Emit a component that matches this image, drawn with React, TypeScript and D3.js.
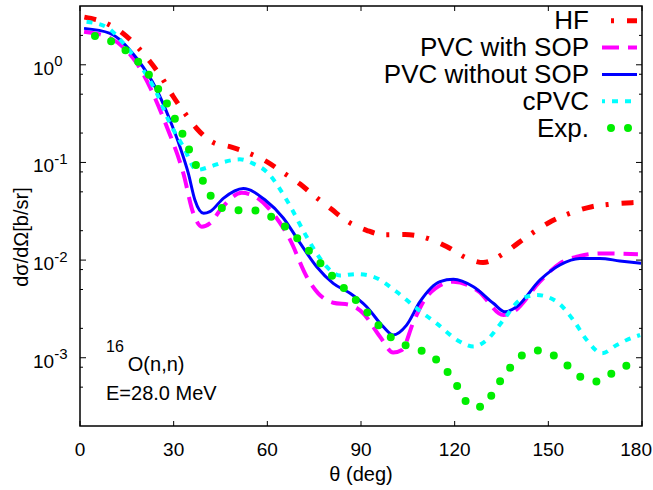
import React from 'react';
import * as d3 from 'd3';

// [angle in deg, dsigma/dOmega in b/sr]
const hfData: [number, number][] = [
  [1.4, 3.08], [8.5, 2.66], [13.4, 2.14], [18.6, 1.5], [22.4, 1.08], [26.7, 0.698],
  [29.7, 0.482], [33.8, 0.313], [37.3, 0.224], [42.7, 0.16], [48.0, 0.145], [53.3, 0.127],
  [59.8, 0.102], [64.6, 0.0804], [70.5, 0.0601], [74.7, 0.0464], [80.6, 0.0331], [85.0, 0.0257],
  [91.8, 0.0202], [97.1, 0.0182], [104.1, 0.0183], [112.1, 0.0164], [117.4, 0.0138], [123.9, 0.0105],
  [129.1, 0.00944], [135.6, 0.0116], [140.4, 0.015], [146.3, 0.0203], [151.1, 0.0251], [156.9, 0.0301],
  [163.9, 0.0352], [169.8, 0.0373], [176.7, 0.0387], [179.7, 0.0391],
];

const pvcSopData: [number, number][] = [
  [1.3, 2.18], [9.6, 1.88], [18.2, 1.035], [27.8, 0.232], [33.1, 0.0774], [36.3, 0.0301],
  [39.0, 0.022], [41.6, 0.0238], [45.5, 0.0345], [51.8, 0.0489], [57.0, 0.0428], [62.5, 0.0282],
  [67.3, 0.0161], [72.6, 0.00676], [76.3, 0.00457], [81.1, 0.00366], [86.5, 0.00347], [90.7, 0.00285],
  [96.1, 0.00164], [100.3, 0.00113], [103.1, 0.0012], [106.8, 0.00232], [111.5, 0.00439], [119.6, 0.00601],
  [127.5, 0.00483], [135.6, 0.00274], [138.8, 0.00296], [147.3, 0.00601], [153.7, 0.00927], [160.1, 0.011],
  [166.5, 0.0117], [178.7, 0.0115],
];

const pvcNoSopData: [number, number][] = [
  [1.3, 2.36], [9.6, 2.1], [18.2, 1.16], [24.6, 0.552], [28.8, 0.272], [32.0, 0.145],
  [34.7, 0.0774], [36.8, 0.0412], [39.6, 0.0301], [41.6, 0.0313], [45.9, 0.0429], [52.3, 0.0541],
  [59.3, 0.0412], [65.1, 0.027], [70.5, 0.0149], [75.8, 0.00855], [81.1, 0.00578], [86.5, 0.00457],
  [91.8, 0.00333], [97.1, 0.00208], [100.3, 0.00171], [104.6, 0.00216], [108.9, 0.00375], [115.3, 0.00601],
  [119.6, 0.00636], [126.0, 0.00533], [132.4, 0.00361], [136.1, 0.00296], [139.9, 0.00333], [147.3, 0.00625],
  [153.7, 0.00891], [160.1, 0.0104], [166.5, 0.0104], [172.9, 0.0098], [179.7, 0.00927],
];

const cpvcData: [number, number][] = [
  [2.1, 2.76], [8.6, 2.42], [13.9, 1.66], [19.2, 0.995], [24.6, 0.51], [28.8, 0.252],
  [33.1, 0.145], [37.4, 0.0837], [41.6, 0.0904], [46.4, 0.1017], [51.2, 0.1076], [55.1, 0.0986],
  [60.2, 0.0779], [66.2, 0.0412], [72.6, 0.0173], [75.8, 0.0117], [79.0, 0.00855], [83.3, 0.00695],
  [88.6, 0.0072], [93.9, 0.00676], [101.4, 0.00474], [107.8, 0.00321], [114.2, 0.00225], [121.7, 0.00146],
  [126.0, 0.0013], [130.3, 0.00152], [135.6, 0.00243], [140.9, 0.0039], [146.3, 0.00439], [152.7, 0.00375],
  [158.0, 0.00243], [162.3, 0.00152], [167.2, 0.00111], [171.9, 0.00135], [175.1, 0.00152], [179.4, 0.00171],
];

const expData: [number, number][] = [
  [4.8, 1.97], [9.8, 1.75], [14.4, 1.42], [18.6, 1.08], [21.9, 0.805], [24.9, 0.574],
  [27.6, 0.414], [30.1, 0.292], [32.5, 0.207], [34.6, 0.143], [36.8, 0.0993], [39.0, 0.0688],
  [41.4, 0.0483], [44.5, 0.0352], [49.4, 0.0324], [54.8, 0.0326], [59.9, 0.0293], [64.4, 0.0238],
  [68.5, 0.0181], [72.1, 0.0137], [75.7, 0.0103], [79.2, 0.00778], [83.0, 0.00578], [86.8, 0.00439],
  [90.4, 0.00333], [93.9, 0.00248], [97.7, 0.00182], [101.9, 0.00145], [106.9, 0.00126], [111.8, 0.00108],
  [115.9, 0.000843], [119.1, 0.00062], [122.0, 0.000446], [124.9, 0.00032], [129.2, 0.000315], [132.3, 0.000439],
  [135.1, 0.00061], [138.4, 0.000835], [142.2, 0.00109], [147.1, 0.00119], [152.1, 0.00104], [156.5, 0.000813],
  [160.5, 0.00063], [165.4, 0.000571], [170.1, 0.000685], [174.9, 0.000826], [179.8, 0.000933],
];

const xTicks = [0, 30, 60, 90, 120, 150, 180];
const yTicks = [1, 0.1, 0.01, 0.001];
const yTickExp = ['0', '-1', '-2', '-3'];
const legendLabels = ['HF', 'PVC with SOP', 'PVC without SOP', 'cPVC', 'Exp.'];

const W = 653;
const H = 490;
const margin = { top: 6, right: 11, bottom: 64, left: 80 };
const font = "'Liberation Sans', Arial, Helvetica, sans-serif";

export default function App() {
  const x = d3.scaleLinear().domain([0, 180]).range([margin.left, W - margin.right]);
  const y = d3.scaleLog().domain([2e-4, 4]).range([H - margin.bottom, margin.top]);

  const line = d3.line<[number, number]>()
    .x(d => x(d[0]))
    .y(d => y(d[1]))
    .curve(d3.curveMonotoneX);

  const series = [
    { data: hfData, color: '#ff0000', width: 5, dash: '12 12 3 13', cap: 'butt', legendOffset: 15 },
    { data: pvcSopData, color: '#ff00ff', width: 4, dash: '17 9', cap: 'butt', legendOffset: 0 },
    { data: pvcNoSopData, color: '#0000ff', width: 3, dash: 'none', cap: 'butt', legendOffset: 0 },
    { data: cpvcData, color: '#00ffff', width: 4, dash: '6 7', cap: 'butt', legendOffset: 3 },
    { data: expData, color: '#00ee00', width: 8, dash: '0 17', cap: 'round', legendOffset: 8 },
  ];

  const minorTicks: number[] = [];
  [1e-4, 1e-3, 1e-2, 1e-1, 1].forEach(dec => {
    [2, 5, 8].forEach(k => {
      const v = dec * k;
      if (v > 2.01e-4 && v < 4) minorTicks.push(v);
    });
  });

  const x0 = margin.left;
  const x1 = W - margin.right;
  const y0 = H - margin.bottom;
  const y1 = margin.top;

  return (
    <svg width={W} height={H} style={{ position: 'absolute', left: 0, top: 0, background: '#fff' }}
      fontFamily={font}>
      <defs>
        <clipPath id="plot-clip">
          <rect x={x0} y={y1} width={x1 - x0} height={y0 - y1} />
        </clipPath>
      </defs>
      <rect width={W} height={H} fill="#fff" />

      {/* ticks */}
      <g stroke="#000" strokeWidth={1}>
        {xTicks.map(t => (
          <g key={'xt' + t}>
            <line x1={x(t)} x2={x(t)} y1={y0} y2={y0 - 5} />
            <line x1={x(t)} x2={x(t)} y1={y1} y2={y1 + 5} />
          </g>
        ))}
        {yTicks.map(t => (
          <g key={'yt' + t}>
            <line x1={x0} x2={x0 + 6} y1={y(t)} y2={y(t)} />
            <line x1={x1} x2={x1 - 6} y1={y(t)} y2={y(t)} />
          </g>
        ))}
        {minorTicks.map(t => (
          <g key={'ym' + t}>
            <line x1={x0} x2={x0 + 3} y1={y(t)} y2={y(t)} />
            <line x1={x1} x2={x1 - 3} y1={y(t)} y2={y(t)} />
          </g>
        ))}
      </g>

      {/* tick labels */}
      {xTicks.map((t, i) => {
        const last = i === xTicks.length - 1;
        return (
          <text key={'xl' + t} x={last ? W - 1 : x(t)} y={456} fontSize={19}
            textAnchor={last ? 'end' : 'middle'} fill="#000">{t}</text>
        );
      })}
      {yTicks.map((t, i) => (
        <text key={'yl' + t} x={33} y={y(t) + 10} fontSize={19} fill="#000">
          10<tspan dy={-8.5} fontSize={15}>{yTickExp[i]}</tspan>
        </text>
      ))}

      {/* axis labels */}
      <text x={(x0 + x1) / 2} y={481} fontSize={20} textAnchor="middle" fill="#000">θ (deg)</text>
      <text transform="translate(28,237) rotate(-90)" fontSize={20} textAnchor="middle" fill="#000">dσ/dΩ[b/sr]</text>

      {/* curves */}
      <g clipPath="url(#plot-clip)" fill="none">
        {series.map((s, i) => (
          <path key={'s' + i} d={line(s.data) || ''} stroke={s.color} strokeWidth={s.width}
            strokeDasharray={s.dash} strokeLinecap={s.cap as any} strokeLinejoin="round" />
        ))}
      </g>

      {/* annotation */}
      <text x={106} y={371} fontSize={20} fill="#000">
        <tspan fontSize={16} dy={-19}>16</tspan><tspan dy={19} dx={4}>O(n,n)</tspan>
      </text>
      <text x={106} y={400} fontSize={20} fill="#000">E=28.0 MeV</text>

      {/* legend */}
      {legendLabels.map((lab, i) => {
        const base = 29.3 + 26.8 * i;
        const s = series[i];
        return (
          <g key={'lg' + i}>
            <text x={589} y={base} fontSize={26} textAnchor="end" fill="#000">{lab}</text>
            <line x1={602} x2={637} y1={base - 8.5} y2={base - 8.5} stroke={s.color} strokeWidth={s.width}
              strokeDasharray={s.dash} strokeDashoffset={s.legendOffset} strokeLinecap={s.cap as any} />
          </g>
        );
      })}

      {/* frame */}
      <rect x={x0} y={y1} width={x1 - x0} height={y0 - y1} fill="none" stroke="#000" strokeWidth={1.5} />
    </svg>
  );
}
